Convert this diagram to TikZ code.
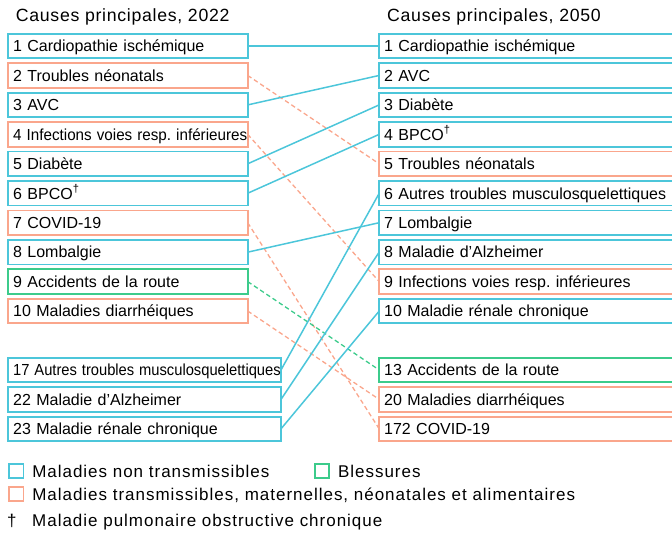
\documentclass[tikz,border=0pt]{standalone}
\usepackage{fontspec}
\usepackage{graphicx}
\setmainfont{Liberation Sans}
\usetikzlibrary{positioning}
\frenchspacing

\definecolor{ncdblue}{HTML}{4CC6DA}
\definecolor{cmnnorange}{HTML}{FAA68C}
\definecolor{injgreen}{HTML}{3CCB8B}

\begin{document}
\begin{tikzpicture}[x=1pt,y=-1pt,node distance=4.95pt,
    box/.style={rectangle,line width=1.8pt,outer sep=0pt,inner xsep=5pt,
      minimum height=24.5pt,text height=11.5pt,text depth=0pt,align=left,
      font=\fontsize{16}{19}\selectfont},
    short box/.style={box,text width=229.5pt},
    long box/.style={box,text width=262.8pt},
    wide box/.style={box,text width=310pt},
    ncd node/.style={draw=ncdblue},
    cmnn node/.style={draw=cmnnorange},
    inj node/.style={draw=injgreen},
    ncd line/.style={draw=ncdblue,line width=1.5pt},
    cmnn line/.style={draw=cmnnorange,line width=1.3pt,dash pattern=on 4.5pt off 3pt},
    inj line/.style={draw=injgreen,line width=1.3pt,dash pattern=on 4.5pt off 3pt},
    title/.style={anchor=base west,inner sep=0pt,
      font=\fontsize{17.7}{21}\selectfont\addfontfeature{LetterSpace=4}},
    key box/.style={rectangle,line width=1.8pt,outer sep=0pt,inner sep=0pt,minimum size=14.5pt},
    key text/.style={inner sep=0pt,text height=12pt,text depth=0pt,
      font=\fontsize{17}{20}\selectfont\addfontfeature{LetterSpace=5.8}}]

  \clip (0,0) rectangle (672,533);

  \node[title] (title 2022) at (15.7,21.7) {Causes principales, 2022};
  \node[title] (title 2050) at (387,21.7) {Causes principales, 2050};

  % 2022 ranking
  \node[short box,ncd node,anchor=west] (l1) at (8.2,46) {1 Cardiopathie ischémique};
  \node[short box,cmnn node,below=of l1] (l2) {2 Troubles néonatals};
  \node[short box,ncd node,below=of l2] (l3) {3 AVC};
  \node[short box,cmnn node,below=of l3] (l4)
    {\scalebox{0.95}[1]{4 Infections voies resp. inférieures}};
  \node[short box,ncd node,below=of l4] (l5) {5 Diabète};
  \node[short box,ncd node,below=of l5] (l6) {6 BPCO\textsuperscript{†}};
  \node[short box,cmnn node,below=of l6] (l7) {7 COVID-19};
  \node[short box,ncd node,below=of l7] (l8) {8 Lombalgie};
  \node[short box,inj node,below=of l8] (l9) {9 Accidents de la route};
  \node[short box,cmnn node,below=of l9] (l10) {10 Maladies diarrhéiques};
  \node[long box,ncd node,below=34.4pt of l10.south west,anchor=north west] (l17)
    {\scalebox{0.92}[1]{17 Autres troubles musculosquelettiques}};
  \node[long box,ncd node,below=of l17] (l22) {22 Maladie d’Alzheimer};
  \node[long box,ncd node,below=of l22] (l23) {23 Maladie rénale chronique};

  % 2050 ranking
  \node[wide box,ncd node,anchor=west] (r1) at (379.2,46) {1 Cardiopathie ischémique};
  \node[wide box,ncd node,below=of r1] (r2) {2 AVC};
  \node[wide box,ncd node,below=of r2] (r3) {3 Diabète};
  \node[wide box,ncd node,below=of r3] (r4) {4 BPCO\textsuperscript{†}};
  \node[wide box,cmnn node,below=of r4] (r5) {5 Troubles néonatals};
  \node[wide box,ncd node,below=of r5] (r6) {6 Autres troubles musculosquelettiques};
  \node[wide box,ncd node,below=of r6] (r7) {7 Lombalgie};
  \node[wide box,ncd node,below=of r7] (r8) {8 Maladie d’Alzheimer};
  \node[wide box,cmnn node,below=of r8] (r9) {9 Infections voies resp. inférieures};
  \node[wide box,ncd node,below=of r9] (r10) {10 Maladie rénale chronique};
  \node[wide box,inj node,below=34.4pt of r10] (r13) {13 Accidents de la route};
  \node[wide box,cmnn node,below=of r13] (r20) {20 Maladies diarrhéiques};
  \node[wide box,cmnn node,below=of r20] (r172) {172 COVID-19};

  \path
    (l1.east) edge[ncd line] (r1.west)
    (l2.east) edge[cmnn line] (r5.west)
    (l3.east) edge[ncd line] (r2.west)
    (l4.east) edge[cmnn line] (r9.west)
    (l5.east) edge[ncd line] (r3.west)
    (l6.east) edge[ncd line] (r4.west)
    (l7.east) edge[cmnn line] (r172.west)
    (l8.east) edge[ncd line] (r7.west)
    (l9.east) edge[inj line] (r13.west)
    (l10.east) edge[cmnn line] (r20.west)
    (l17.east) edge[ncd line] (r6.west)
    (l22.east) edge[ncd line] (r8.west)
    (l23.east) edge[ncd line] (r10.west);

  % legend
  \node[key box,draw=ncdblue] (key ncd) at (16.2,471) {};
  \node[key text,right=8.6pt of key ncd] (key ncd text) {Maladies non transmissibles};
  \node[key box,draw=injgreen] (key inj) at (322,471) {};
  \node[key text,right=8.6pt of key inj] (key inj text) {Blessures};
  \node[key box,draw=cmnnorange] (key cmnn) at (16.2,494) {};
  \node[key text,right=8.6pt of key cmnn] (key cmnn text)
    {Maladies transmissibles, maternelles, néonatales et alimentaires};
  \node[key text,anchor=base west] (key dagger) at (7,526.7) {†};
  \node[key text,anchor=base west] (key copd text) at (32,526.7) {Maladie pulmonaire obstructive chronique};
\end{tikzpicture}
\end{document}
